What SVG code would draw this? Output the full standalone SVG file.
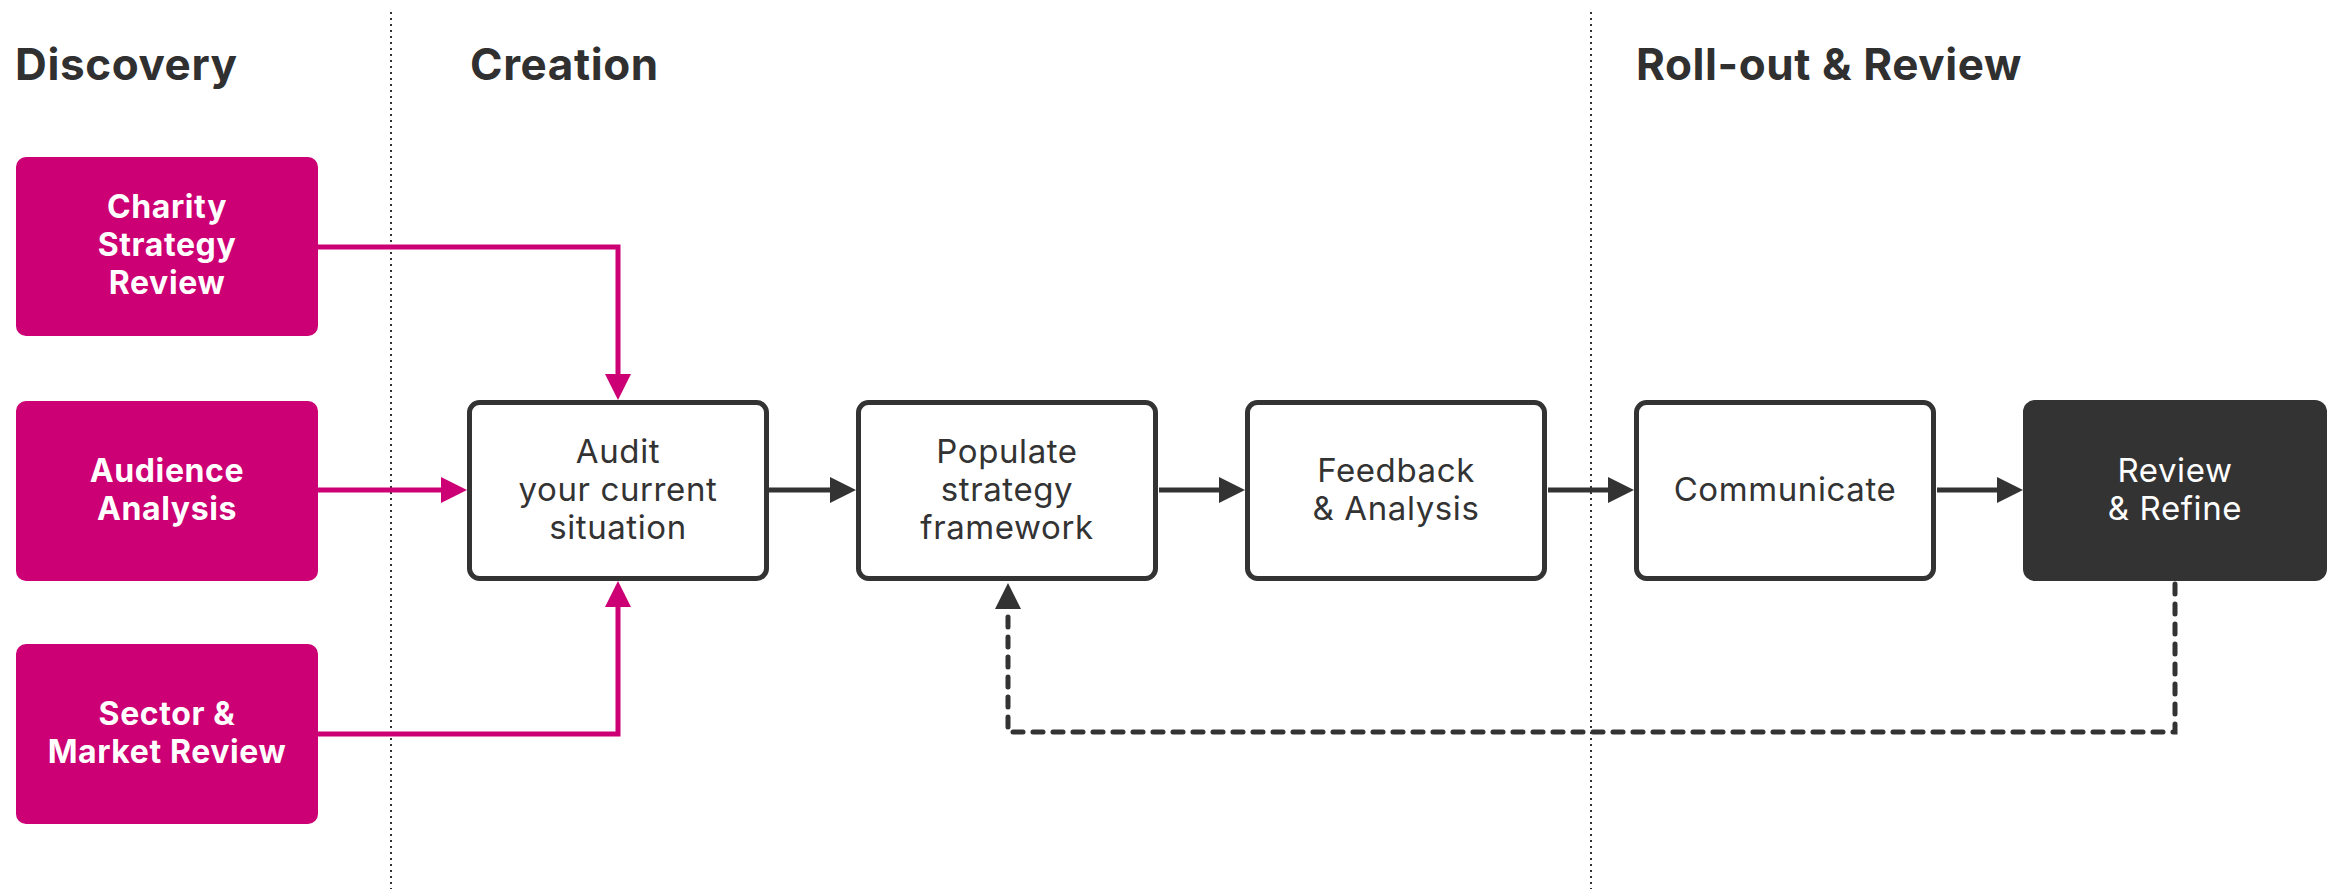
<svg xmlns="http://www.w3.org/2000/svg" width="2338" height="889" viewBox="0 0 2338 889">
<style>
.title{font-family:Inter,"Liberation Sans",sans-serif;font-weight:700;font-size:44px;letter-spacing:0.6px;fill:#303030}
.pk{fill:#CC0074}
.pt{font-family:Inter,"Liberation Sans",sans-serif;font-weight:700;font-size:32px;letter-spacing:0.6px;fill:#fff;text-anchor:middle}
.wb{fill:#fff;stroke:#333;stroke-width:5}
.wt{font-family:Inter,"Liberation Sans",sans-serif;font-weight:400;font-size:33px;letter-spacing:0.6px;fill:#333;text-anchor:middle}
.dt{font-family:Inter,"Liberation Sans",sans-serif;font-weight:400;font-size:33px;letter-spacing:0.6px;fill:#fff;text-anchor:middle}
.sep{stroke:#333;stroke-width:2;stroke-dasharray:2 4;fill:none}
.cp{fill:none;stroke:#CC0074;stroke-width:5;marker-end:url(#ap)}
.cd{fill:none;stroke:#333;stroke-width:5;marker-end:url(#ad)}
.dash{stroke-dasharray:10 10;stroke-linecap:round}
</style>
<defs>
<marker id="ap" markerUnits="userSpaceOnUse" markerWidth="26" markerHeight="26" refX="0" refY="13" orient="auto" viewBox="0 0 26 26"><path d="M0,0 L26,13 L0,26 z" fill="#CC0074"/></marker>
<marker id="ad" markerUnits="userSpaceOnUse" markerWidth="26" markerHeight="26" refX="0" refY="13" orient="auto" viewBox="0 0 26 26"><path d="M0,0 L26,13 L0,26 z" fill="#333"/></marker>
</defs>
<rect width="2338" height="889" fill="#fff"/>
<g id="separators">
<line class="sep" x1="391" y1="12" x2="391" y2="889"/>
<line class="sep" x1="1591" y1="12" x2="1591" y2="889"/>
</g>
<g id="titles">
<text class="title" x="15" y="80">Discovery</text>
<text class="title" x="470" y="80">Creation</text>
<text class="title" x="1636" y="80">Roll-out &amp; Review</text>
</g>
<g id="connectors">
<path class="cp" d="M318,247 H618 V374"/>
<path class="cp" d="M318,490 H441"/>
<path class="cp" d="M318,734 H618 V607"/>
<path class="cd" d="M769,490 H830"/>
<path class="cd" d="M1159,490 H1219"/>
<path class="cd" d="M1548,490 H1608"/>
<path class="cd" d="M1937,490 H1997"/>
<path class="cd dash" d="M2175,584 V732 H1008 V609"/>
</g>
<g id="charity">
<rect class="pk" x="16" y="157" width="302" height="179" rx="10"/>
<text class="pt"><tspan x="167" y="218">Charity</tspan><tspan x="167" y="256">Strategy</tspan><tspan x="167" y="294">Review</tspan></text>
</g>
<g id="audience">
<rect class="pk" x="16" y="401" width="302" height="180" rx="10"/>
<text class="pt"><tspan x="167" y="482">Audience</tspan><tspan x="167" y="520">Analysis</tspan></text>
</g>
<g id="sector">
<rect class="pk" x="16" y="644" width="302" height="180" rx="10"/>
<text class="pt"><tspan x="167" y="725">Sector &amp;</tspan><tspan x="167" y="763">Market Review</tspan></text>
</g>
<g id="audit">
<rect class="wb" x="469.5" y="402.5" width="297" height="176" rx="10"/>
<text class="wt"><tspan x="618" y="463">Audit</tspan><tspan x="618" y="501">your current</tspan><tspan x="618" y="539">situation</tspan></text>
</g>
<g id="populate">
<rect class="wb" x="858.5" y="402.5" width="297" height="176" rx="10"/>
<text class="wt"><tspan x="1007" y="463">Populate</tspan><tspan x="1007" y="501">strategy</tspan><tspan x="1007" y="539">framework</tspan></text>
</g>
<g id="feedback">
<rect class="wb" x="1247.5" y="402.5" width="297" height="176" rx="10"/>
<text class="wt"><tspan x="1396" y="482">Feedback</tspan><tspan x="1396" y="520">&amp; Analysis</tspan></text>
</g>
<g id="communicate">
<rect class="wb" x="1636.5" y="402.5" width="297" height="176" rx="10"/>
<text class="wt" x="1785" y="501">Communicate</text>
</g>
<g id="review">
<rect x="2023" y="400" width="304" height="181" rx="12" fill="#333"/>
<text class="dt"><tspan x="2175" y="482">Review</tspan><tspan x="2175" y="520">&amp; Refine</tspan></text>
</g>
</svg>
